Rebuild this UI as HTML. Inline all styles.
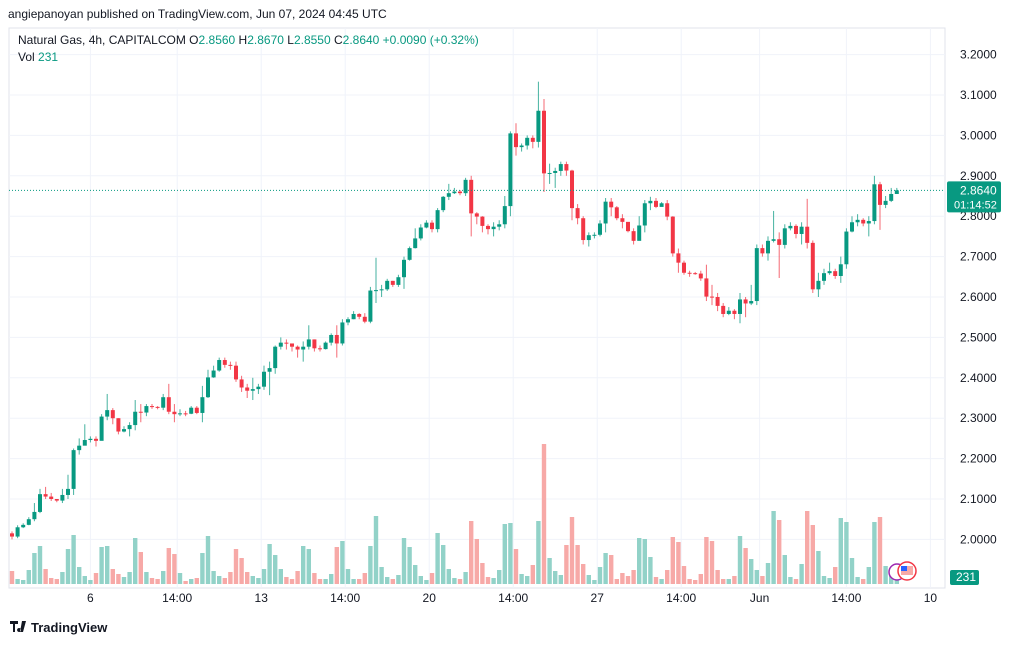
<!DOCTYPE html>
<html><head><meta charset="utf-8">
<style>
body{margin:0;background:#fff;width:1024px;height:643px;overflow:hidden;font-family:"Liberation Sans",sans-serif;}
svg text{font-family:"Liberation Sans",sans-serif;}
</style></head>
<body>
<svg id="chart" width="1024" height="643" viewBox="0 0 1024 643" xmlns="http://www.w3.org/2000/svg">
<rect width="1024" height="643" fill="#fff"/>
<rect x="9" y="28" width="936" height="560" fill="none" stroke="#e0e3eb" stroke-width="1"/>
<g id="grid"></g>
<g id="vols"></g>
<g id="candles"></g>
<g id="axis"></g>
<g id="xaxis"></g>
<text x="8" y="18" font-size="12" fill="#131722">angiepanoyan published on TradingView.com, Jun 07, 2024 04:45 UTC</text>
<text x="18" y="44" font-size="12" fill="#131722">Natural Gas, 4h, CAPITALCOM  <tspan fill="#131722">O</tspan><tspan fill="#089981">2.8560</tspan> H<tspan fill="#089981">2.8670</tspan> L<tspan fill="#089981">2.8550</tspan> C<tspan fill="#089981">2.8640 +0.0090 (+0.32%)</tspan></text>
<text x="18" y="61" font-size="12" fill="#131722">Vol <tspan fill="#089981">231</tspan></text>
<g>
<path d="M10 621h8v3h-3v8h-2v-8h-3z M19 628a2 2 0 1 0 0.1 0z M22 621h4l-3 11h-3z" fill="#131722"/>
<text x="31" y="632" font-size="13" font-weight="bold" fill="#131722">TradingView</text>
</g>
<g>
<circle cx="897" cy="572" r="8" fill="#fff" stroke="#9c27b0" stroke-width="1.5"/>
<circle cx="907" cy="571" r="9" fill="#fff" stroke="#f23645" stroke-width="1.5"/>
<rect x="901" y="566" width="12" height="9" fill="#f7a9a7"/><rect x="901" y="566" width="6" height="5" fill="#2962ff"/>
</g>
</svg>
<script>
const closes=[2.007,2.030,2.036,2.050,2.068,2.112,2.106,2.100,2.096,2.110,2.125,2.221,2.232,2.246,2.249,2.244,2.304,2.320,2.300,2.267,2.273,2.283,2.316,2.314,2.330,2.328,2.326,2.352,2.316,2.310,2.312,2.311,2.326,2.313,2.352,2.401,2.418,2.444,2.432,2.430,2.396,2.376,2.368,2.372,2.378,2.415,2.424,2.477,2.487,2.485,2.477,2.470,2.477,2.495,2.473,2.471,2.487,2.506,2.485,2.537,2.545,2.558,2.551,2.539,2.616,2.617,2.619,2.640,2.630,2.649,2.692,2.721,2.745,2.772,2.784,2.768,2.815,2.848,2.857,2.861,2.857,2.890,2.807,2.799,2.776,2.768,2.774,2.780,2.825,3.005,2.971,2.975,2.994,2.984,3.061,2.906,2.907,2.912,2.929,2.913,2.820,2.795,2.741,2.753,2.754,2.782,2.836,2.822,2.795,2.786,2.763,2.739,2.777,2.832,2.838,2.823,2.832,2.799,2.708,2.685,2.660,2.659,2.658,2.646,2.601,2.600,2.578,2.558,2.566,2.558,2.594,2.584,2.590,2.721,2.708,2.739,2.743,2.729,2.770,2.776,2.756,2.774,2.734,2.619,2.640,2.659,2.664,2.652,2.681,2.762,2.785,2.791,2.782,2.788,2.879,2.828,2.838,2.855,2.864];
const highs=[2.02,2.035,2.04,2.055,2.09,2.125,2.13,2.115,2.1,2.125,2.16,2.225,2.25,2.285,2.255,2.255,2.31,2.36,2.325,2.3,2.28,2.29,2.345,2.335,2.335,2.335,2.33,2.36,2.385,2.335,2.322,2.318,2.33,2.33,2.38,2.42,2.43,2.45,2.45,2.44,2.44,2.405,2.385,2.4,2.385,2.43,2.44,2.48,2.5,2.495,2.485,2.48,2.49,2.53,2.495,2.48,2.49,2.51,2.53,2.545,2.55,2.565,2.56,2.56,2.625,2.697,2.63,2.645,2.64,2.655,2.7,2.725,2.77,2.78,2.79,2.79,2.82,2.85,2.88,2.87,2.865,2.895,2.9,2.81,2.8,2.78,2.785,2.79,2.85,3.01,3.03,2.98,3.0,3.0,3.133,3.09,2.93,2.92,2.935,2.935,2.915,2.83,2.8,2.76,2.76,2.79,2.845,2.845,2.825,2.805,2.785,2.77,2.8,2.84,2.848,2.845,2.835,2.84,2.8,2.72,2.69,2.665,2.662,2.665,2.68,2.63,2.61,2.585,2.575,2.57,2.61,2.6,2.63,2.73,2.73,2.75,2.813,2.76,2.78,2.785,2.78,2.785,2.843,2.74,2.66,2.67,2.685,2.67,2.7,2.77,2.8,2.805,2.795,2.8,2.9,2.885,2.85,2.87,2.87];
const lows=[2.0,2.003,2.028,2.035,2.045,2.065,2.1,2.095,2.092,2.09,2.1,2.11,2.21,2.235,2.24,2.23,2.245,2.295,2.285,2.26,2.265,2.255,2.27,2.29,2.305,2.323,2.322,2.32,2.31,2.29,2.305,2.305,2.31,2.31,2.29,2.35,2.4,2.415,2.425,2.42,2.39,2.365,2.35,2.345,2.36,2.37,2.357,2.41,2.47,2.47,2.465,2.45,2.44,2.47,2.465,2.465,2.47,2.48,2.45,2.48,2.53,2.545,2.545,2.535,2.535,2.585,2.6,2.615,2.625,2.625,2.62,2.69,2.72,2.74,2.77,2.76,2.76,2.81,2.84,2.855,2.852,2.85,2.75,2.78,2.76,2.755,2.75,2.765,2.77,2.8,2.95,2.96,2.965,2.968,2.97,2.86,2.88,2.87,2.9,2.9,2.79,2.78,2.73,2.725,2.745,2.75,2.76,2.8,2.79,2.77,2.76,2.73,2.74,2.76,2.815,2.82,2.825,2.79,2.7,2.66,2.655,2.65,2.655,2.64,2.59,2.58,2.565,2.55,2.555,2.545,2.535,2.55,2.58,2.58,2.7,2.69,2.735,2.647,2.72,2.765,2.745,2.73,2.72,2.61,2.6,2.63,2.655,2.645,2.635,2.67,2.76,2.775,2.775,2.75,2.78,2.766,2.82,2.835,2.855];
const volumes=[13,5,4,14,31,38,15,6,5,12,35,49,17,8,4,11,37,38,15,10,7,12,46,32,12,6,5,13,36,30,11,3,5,6,31,48,13,8,6,12,35,26,12,8,6,15,40,29,15,7,5,13,38,35,11,5,5,10,37,43,15,5,5,11,38,68,17,7,5,9,46,37,19,8,4,11,51,39,15,6,5,12,63,45,21,7,6,14,60,61,35,10,8,19,63,140,26,13,9,39,67,39,20,9,4,17,31,29,5,11,8,14,46,45,27,7,5,14,47,42,18,5,4,10,47,43,14,5,5,8,48,36,25,14,8,21,73,64,29,7,5,20,73,59,33,8,6,17,66,62,26,7,5,17,62,67,18,11,4];
const priceTicks=[3.2,3.1,3.0,2.9,2.8,2.7,2.6,2.5,2.4,2.3,2.2,2.1,2.0];
const timeLabels=["6","14:00","13","14:00","20","14:00","27","14:00","Jun","14:00","10"];
const timeLabelIdx=[14,29.5,44.5,59.5,74.5,89.5,104.5,119.5,133.5,149,164];
const firstOpen=2.015;
const lastPrice=2.864;

const NS="http://www.w3.org/2000/svg";
function yP(p){return 54.6+(3.2-p)*404;}
function xI(i){return 12+i*5.6;}
function yV(v){return 584-v;}
function mk(tag,attrs,parent){const e=document.createElementNS(NS,tag);for(const k in attrs)e.setAttribute(k,attrs[k]);parent.appendChild(e);return e;}
const grid=document.getElementById('grid'),cg=document.getElementById('candles'),vg=document.getElementById('vols'),ax=document.getElementById('axis'),xa=document.getElementById('xaxis');
priceTicks.forEach(p=>{
  const y=yP(p);
  const l=mk('line',{x1:9,x2:945,y1:y,y2:y,stroke:'#f0f3fa'},grid);
  
  
  const t=mk('text',{x:960,y:y+4,'font-size':12,fill:'#131722'},ax);
  t.textContent=p.toFixed(4);
  
  
});
timeLabels.forEach((s,k)=>{
  const x=xI(timeLabelIdx[k]);
  const l=mk('line',{x1:x,x2:x,y1:28,y2:588,stroke:'#f0f3fa'},grid);
  
  
  const t=mk('text',{x:x,y:602,'font-size':12,fill:'#131722','text-anchor':'middle'},xa);
  t.textContent=s;
  
  
});
closes.forEach((c,i)=>{
  const o=i===0?firstOpen:closes[i-1];
  const up=c>=o;
  const col=up?'#089981':'#f23645';
  const x=xI(i);
  const v=mk('rect',{x:x-2.2,y:yV(volumes[i]),width:4.4,height:volumes[i],fill:up?'#92d2c8':'#f7a9a7'},vg);
  
  
  const w=mk('line',{x1:x,x2:x,y1:yP(highs[i]),y2:yP(lows[i]),stroke:col,'stroke-width':1,opacity:0.75},cg);
  
  
  const top=yP(Math.max(o,c)),bot=yP(Math.min(o,c));
  const b=mk('rect',{x:x-2,y:top,width:4,height:Math.max(1,bot-top),fill:col},cg);
  
  
});
const py=yP(lastPrice);
const pl=mk('line',{x1:9,x2:945,y1:py,y2:py,stroke:'#089981','stroke-dasharray':'1 2','stroke-width':1},cg);


const tag=mk('rect',{x:947,y:py-9,width:54,height:31,fill:'#089981',rx:2},ax);


const t1=mk('text',{x:960,y:py+4,'font-size':12,fill:'#fff'},ax);t1.textContent=lastPrice.toFixed(4);


const t2=mk('text',{x:954,y:py+18,'font-size':11,fill:'#fff'},ax);t2.textContent='01:14:52';


const vt=mk('rect',{x:950,y:570,width:29,height:15,fill:'#089981',rx:2},ax);


const vtt=mk('text',{x:956,y:581,'font-size':12,fill:'#fff'},ax);vtt.textContent='231';


</script>
</body></html>
